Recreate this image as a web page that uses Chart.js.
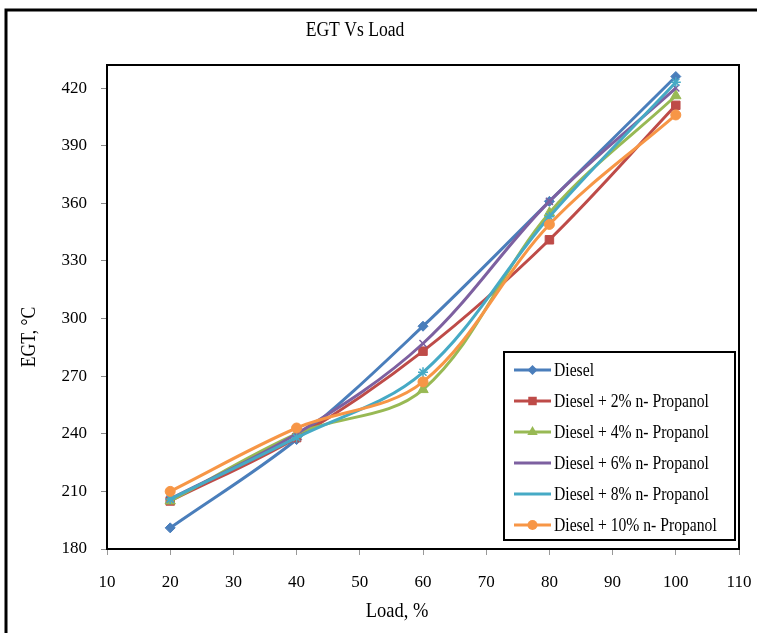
<!DOCTYPE html>
<html>
<head>
<meta charset="utf-8">
<title>EGT Vs Load</title>
<script src="https://cdn.jsdelivr.net/npm/chart.js@4.4.1/dist/chart.umd.min.js"></script>
<style>
  html, body { margin: 0; padding: 0; background: #ffffff; }
  #wrap { width: 757px; height: 633px; position: relative; }
  canvas { display: block; }
</style>
</head>
<body>
<div id="wrap"><canvas id="egt" width="757" height="633"></canvas></div>
<script>
// Engine load (%) at which exhaust gas temperature was measured
const loads = [20, 40, 60, 80, 100];

// Exhaust gas temperature (°C) for each fuel
const diesel    = [191, 237, 296, 361, 426];
const propanol2 = [205, 238, 283, 341, 411];
const propanol4 = [205, 240, 263, 355, 416];
const propanol6 = [206, 240, 287, 361, 420];
const propanol8 = [206, 238, 272, 353, 423];
const propanol10 = [210, 243, 267, 349, 406];

const seriesNames = [
  'Diesel',
  'Diesel + 2% n- Propanol',
  'Diesel + 4% n- Propanol',
  'Diesel + 6% n- Propanol',
  'Diesel + 8% n- Propanol',
  'Diesel + 10% n- Propanol'
];

// Axis tick labels
const xTicks = [10, 20, 30, 40, 50, 60, 70, 80, 90, 100, 110];
const yTicks = [180, 210, 240, 270, 300, 330, 360, 390, 420];

const chartTitle = 'EGT Vs Load';
const xTitle = 'Load, %';
const yTitle = 'EGT, °C';

const seriesValues = [diesel, propanol2, propanol4, propanol6, propanol8, propanol10];
const colors = ['#4A7EBB', '#BE4B48', '#98B954', '#7D60A0', '#46AAC5', '#F79646'];
const markers = ['rectRot', 'rect', 'triangle', 'crossRot', 'star', 'circle'];
const markerSize = [5, 6, 6, 5, 5, 5];

const SERIF = '"Liberation Serif", "Times New Roman", serif';

const datasets = seriesValues.map((vals, i) => ({
  label: seriesNames[i],
  data: loads.map((x, j) => ({ x: x, y: vals[j] })),
  borderColor: colors[i],
  backgroundColor: colors[i],
  borderWidth: 3,
  pointStyle: markers[i],
  pointRadius: markerSize[i],
  pointBorderWidth: markers[i] === 'crossRot' || markers[i] === 'star' ? 1.5 : 1,
  pointBackgroundColor: colors[i],
  pointBorderColor: colors[i],
  tension: 0.35,
  order: seriesValues.length - i,
  fill: false
}));

function drawMarker(ctx, style, r, x, y) {
  if (Chart.helpers && Chart.helpers.drawPoint) {
    Chart.helpers.drawPoint(ctx, { pointStyle: style, radius: r, rotation: 0 }, x, y);
  } else {
    ctx.beginPath();
    ctx.arc(x, y, r, 0, Math.PI * 2);
    ctx.fill();
  }
}

// Narrow serif text, squeezed horizontally
function narrowText(ctx, text, x, y, size, squeeze, align, angle) {
  ctx.save();
  ctx.translate(x, y);
  if (angle) ctx.rotate(angle);
  ctx.scale(squeeze, 1);
  ctx.font = size + 'px ' + SERIF;
  ctx.textAlign = align;
  ctx.textBaseline = 'middle';
  ctx.fillStyle = '#000000';
  ctx.fillText(text, 0, 0);
  ctx.restore();
}

// White page, outer frame, plot border, titles and boxed legend
const decorations = {
  id: 'decorations',
  beforeDraw(chart) {
    const ctx = chart.ctx;
    ctx.save();
    ctx.fillStyle = '#ffffff';
    ctx.fillRect(0, 0, chart.width, chart.height);
    ctx.restore();
  },
  afterDatasetsDraw(chart) {
    const ctx = chart.ctx;
    const a = chart.chartArea;
    ctx.save();
    ctx.strokeStyle = '#000000';
    ctx.lineWidth = 2;
    ctx.strokeRect(a.left, a.top, a.right - a.left, a.bottom - a.top);
    ctx.restore();
  },
  afterDraw(chart) {
    const ctx = chart.ctx;
    ctx.save();

    // outer frame (top and left edges)
    ctx.strokeStyle = '#000000';
    ctx.lineWidth = 3;
    ctx.beginPath();
    ctx.moveTo(6, chart.height);
    ctx.lineTo(6, 10);
    ctx.lineTo(chart.width, 10);
    ctx.stroke();

    // titles
    narrowText(ctx, chartTitle, 355, 31, 20, 0.88, 'center', 0);
    narrowText(ctx, xTitle, 397, 611, 21, 0.88, 'center', 0);
    narrowText(ctx, yTitle, 30, 337, 20, 0.88, 'center', -Math.PI / 2);

    // legend box
    const lx = 504, ly = 352, lw = 231, lh = 188;
    ctx.fillStyle = '#ffffff';
    ctx.fillRect(lx, ly, lw, lh);
    ctx.strokeStyle = '#000000';
    ctx.lineWidth = 2;
    ctx.strokeRect(lx, ly, lw, lh);

    chart.data.datasets.forEach((ds, i) => {
      const y = 370 + i * 31;
      ctx.strokeStyle = ds.borderColor;
      ctx.lineWidth = 3;
      ctx.beginPath();
      ctx.moveTo(514, y);
      ctx.lineTo(551, y);
      ctx.stroke();
      ctx.fillStyle = ds.backgroundColor;
      ctx.strokeStyle = ds.borderColor;
      ctx.lineWidth = ds.pointBorderWidth;
      drawMarker(ctx, ds.pointStyle, ds.pointRadius, 532.5, y);
      narrowText(ctx, ds.label, 554, y + 1, 18, 0.87, 'left', 0);
    });
    ctx.restore();
  }
};

new Chart(document.getElementById('egt'), {
  type: 'line',
  data: { datasets: datasets },
  options: {
    responsive: false,
    animation: false,
    devicePixelRatio: 1,
    layout: { padding: { top: 65, right: 18, left: 0, bottom: 0 } },
    plugins: {
      legend: { display: false },
      title: { display: false },
      tooltip: { enabled: false }
    },
    scales: {
      x: {
        type: 'linear',
        min: 10,
        max: 110,
        afterBuildTicks(scale) { scale.ticks = xTicks.map(v => ({ value: v })); },
        afterFit(scale) {
          scale.height = 84;
          scale.paddingLeft = 0;
          scale.paddingRight = 0;
        },
        border: { display: false },
        grid: { drawOnChartArea: false, drawTicks: true, tickLength: 6, color: '#999999', lineWidth: 1 },
        ticks: { color: '#000000', font: { family: SERIF, size: 17 }, padding: 17, maxRotation: 0, autoSkip: false },
        title: { display: false }
      },
      y: {
        type: 'linear',
        min: 180,
        max: 432,
        afterBuildTicks(scale) { scale.ticks = yTicks.map(v => ({ value: v })); },
        afterFit(scale) {
          scale.width = 107;
          scale.paddingTop = 0;
          scale.paddingBottom = 0;
        },
        border: { display: false },
        grid: { drawOnChartArea: false, drawTicks: true, tickLength: 6, color: '#888888', lineWidth: 1 },
        ticks: { color: '#000000', font: { family: SERIF, size: 17 }, padding: 14, autoSkip: false },
        title: { display: false }
      }
    }
  },
  plugins: [decorations]
});
</script>
</body>
</html>
